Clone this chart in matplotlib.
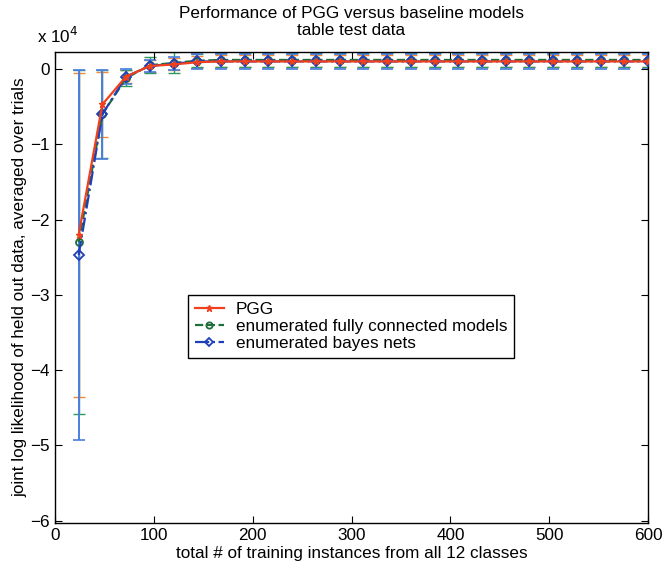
import numpy as np
import matplotlib
matplotlib.use("Agg")
from matplotlib import pyplot as plt

plt.rcParams['font.family'] = ['Liberation Sans', 'DejaVu Sans']

# training instances (x) and mean log likelihood, in units of 1e4
n_train = np.arange(24, 601, 24)

pgg = [-2.20, -0.47, -0.10, 0.04, 0.06, 0.09, 0.10, 0.10, 0.10, 0.10,
       0.10, 0.10, 0.10, 0.10, 0.10, 0.10, 0.10, 0.10, 0.10, 0.10,
       0.10, 0.10, 0.10, 0.10, 0.10]
pgg_err = [2.15, 0.43, 0.09, 0.08, 0.08, 0.08, 0.08, 0.08, 0.08, 0.08,
           0.08, 0.08, 0.08, 0.08, 0.08, 0.08, 0.08, 0.08, 0.08, 0.08,
           0.08, 0.08, 0.08, 0.08, 0.08]

full = [-2.30, -0.60, -0.12, 0.05, 0.08, 0.11, 0.12, 0.12, 0.12, 0.12,
        0.12, 0.12, 0.12, 0.12, 0.12, 0.12, 0.12, 0.12, 0.12, 0.12,
        0.12, 0.12, 0.12, 0.12, 0.12]
full_err = [2.28, 0.58, 0.10, 0.11, 0.14, 0.09, 0.09, 0.09, 0.09, 0.09,
            0.09, 0.09, 0.09, 0.09, 0.09, 0.09, 0.09, 0.09, 0.09, 0.09,
            0.09, 0.09, 0.09, 0.09, 0.09]

bayes = [-2.47, -0.60, -0.10, 0.04, 0.07, 0.10, 0.10, 0.10, 0.10, 0.10,
         0.10, 0.10, 0.10, 0.10, 0.10, 0.10, 0.10, 0.10, 0.10, 0.10,
         0.10, 0.10, 0.10, 0.10, 0.10]
bayes_err = [2.46, 0.59, 0.10, 0.08, 0.09, 0.10, 0.10, 0.10, 0.10, 0.10,
             0.10, 0.10, 0.10, 0.10, 0.10, 0.10, 0.10, 0.10, 0.10, 0.10,
             0.10, 0.10, 0.10, 0.10, 0.10]

fs = 12.3

fig = plt.figure(figsize=(6.62, 5.71), dpi=100)
ax = fig.add_axes([0.083, 0.084, 0.896, 0.825])

# error bars first (lighter colours), then lines on top
ax.errorbar(n_train, pgg, yerr=pgg_err, fmt='none', ecolor='#f5893a',
            elinewidth=1.0, capsize=4, capthick=1.0, zorder=1)
ax.errorbar(n_train, full, yerr=full_err, fmt='none', ecolor='#2e9a5a',
            elinewidth=1.0, capsize=4, capthick=1.0, zorder=1)
ax.errorbar(n_train, bayes, yerr=bayes_err, fmt='none', ecolor='#4a7ee0',
            elinewidth=1.4, capsize=4, capthick=1.2, zorder=1.5)

ax.plot(n_train, pgg, color='#f0401e', marker='*', markersize=5,
        linewidth=1.6, label='PGG', zorder=4)
ax.plot(n_train, full, color='#1f6e3c', linestyle='--', marker='o',
        markersize=5, markerfacecolor='none', markeredgewidth=1.3,
        linewidth=1.6, label='enumerated fully connected models', zorder=3)
ax.plot(n_train, bayes, color='#1e3fb8', linestyle='-.', marker='D',
        markersize=5, markerfacecolor='none', markeredgewidth=1.3,
        linewidth=1.6, label='enumerated bayes nets', zorder=3)

ax.set_xlim(0, 600)
ax.set_ylim(-6.03, 0.226)
ax.set_xticks(range(0, 601, 100))
ax.set_yticks(range(-6, 1))
ax.tick_params(direction='in', length=5, labelsize=fs, top=True, right=True)
for sp in ax.spines.values():
    sp.set_linewidth(1.0)

ax.text(0.004, 1.012, r'x 10$^4$', transform=ax.transAxes, fontsize=fs,
        ha='center', va='bottom')

ax.set_xlabel('total # of training instances from all 12 classes', fontsize=fs,
              labelpad=2)
ax.set_ylabel('joint log likelihood of held out data, averaged over trials',
              fontsize=fs, labelpad=2)
ax.set_title('Performance of PGG versus baseline models\ntable test data',
             fontsize=fs, pad=12, linespacing=1.15)

leg = ax.legend(loc='upper left', bbox_to_anchor=(0.224, 0.484), fontsize=fs,
                fancybox=False, edgecolor='black', framealpha=1,
                handlelength=1.7, borderpad=0.4, labelspacing=0.12,
                handletextpad=0.7, borderaxespad=0, markerscale=0.9)
leg.get_frame().set_linewidth(1.0)

plt.savefig('out.png', dpi=100)
